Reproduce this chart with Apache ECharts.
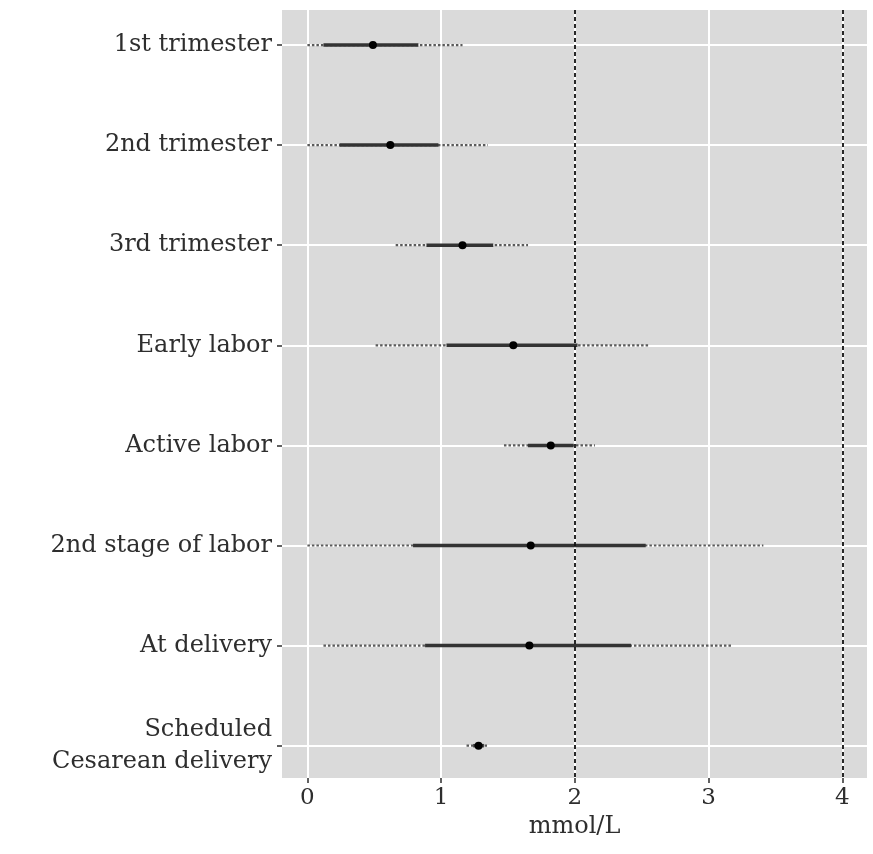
<!DOCTYPE html>
<html>
<head>
<meta charset="utf-8">
<script src="https://cdn.jsdelivr.net/npm/echarts@6/dist/echarts.min.js"></script>
<style>
  html, body { margin: 0; padding: 0; background: #fff; }
  #main { width: 873px; height: 854px; }
</style>
</head>
<body>
<div id="main"></div>
<script>
// periods (top to bottom)
var categories = [
  '1st trimester',
  '2nd trimester',
  '3rd trimester',
  'Early labor',
  'Active labor',
  '2nd stage of labor',
  'At delivery',
  'Scheduled\nCesarean delivery'
];
// dotted outer range
var outerLow  = [0.00, 0.00, 0.66, 0.51, 1.47, 0.00, 0.12, 1.19];
var outerHigh = [1.16, 1.35, 1.65, 2.55, 2.15, 3.41, 3.17, 1.35];
// solid inner range
var innerLow  = [0.12, 0.24, 0.89, 1.04, 1.65, 0.79, 0.88, 1.24];
var innerHigh = [0.83, 0.98, 1.39, 2.02, 1.99, 2.53, 2.42, 1.32];
// point estimate
var median    = [0.49, 0.62, 1.16, 1.54, 1.82, 1.67, 1.66, 1.28];
// x ticks and reference lines
var xTicks = [0, 1, 2, 3, 4];
var refLines = [2, 4];

var rows = categories.map(function (c, i) { return i + 1; });

var outerData = rows.map(function (r, i) { return [outerLow[i], outerHigh[i], r]; });
var innerData = rows.map(function (r, i) { return [innerLow[i], innerHigh[i], r]; });
var pointData = rows.map(function (r, i) { return [median[i], r]; });

function segment(style) {
  return function (params, api) {
    var a = api.coord([api.value(0), api.value(2)]);
    var b = api.coord([api.value(1), api.value(2)]);
    return {
      type: 'line',
      shape: { x1: a[0], y1: a[1], x2: b[0], y2: b[1] },
      style: style
    };
  };
}

var textColor = '#2e2e2e';
var serif = 'DejaVu Serif';

var chart = echarts.init(document.getElementById('main'));
var option = {
  backgroundColor: '#fff',
  animation: false,
  grid: {
    left: 282, right: 6, top: 10, bottom: 76,
    show: true, backgroundColor: '#dadada', borderWidth: 0
  },
  xAxis: {
    type: 'value',
    min: -0.19,
    max: 4.185,
    name: 'mmol/L',
    nameLocation: 'middle',
    nameGap: 36,
    nameTextStyle: { fontFamily: serif, fontSize: 24, color: textColor },
    axisLine: { show: false, onZero: false },
    axisTick: { show: true, length: 5, customValues: xTicks, lineStyle: { color: textColor, width: 1.5 } },
    axisLabel: { customValues: xTicks, fontFamily: serif, fontSize: 23, color: textColor, margin: 9 },
    splitLine: { show: true, lineStyle: { color: '#fff', width: 2 } }
  },
  yAxis: {
    type: 'value',
    inverse: true,
    min: 0.65,
    max: 8.323,
    axisLine: { show: false, onZero: false },
    axisTick: { show: true, length: 5, customValues: rows, lineStyle: { color: textColor, width: 1.5 } },
    axisLabel: {
      customValues: rows,
      fontFamily: serif, fontSize: 24, color: textColor, margin: 10,
      lineHeight: 32,
      formatter: function (v) { return categories[Math.round(v) - 1] || ''; }
    },
    splitLine: { show: true, lineStyle: { color: '#fff', width: 2 } }
  },
  series: [
    {
      type: 'custom',
      renderItem: segment({ stroke: '#5a5a5a', lineWidth: 2.2, lineDash: [2.5, 2] }),
      encode: { x: [0, 1], y: 2 },
      data: outerData,
      z: 3
    },
    {
      type: 'custom',
      renderItem: segment({ stroke: '#333', lineWidth: 3.5 }),
      encode: { x: [0, 1], y: 2 },
      data: innerData,
      z: 4
    },
    {
      type: 'scatter',
      symbolSize: 8,
      itemStyle: { color: '#000', opacity: 1 },
      data: pointData,
      z: 5,
      markLine: {
        silent: true,
        symbol: 'none',
        label: { show: false },
        lineStyle: { color: '#111', width: 1.8, type: [4, 3] },
        data: refLines.map(function (v) { return { xAxis: v }; })
      }
    }
  ]
};
chart.setOption(option);
</script>
</body>
</html>
